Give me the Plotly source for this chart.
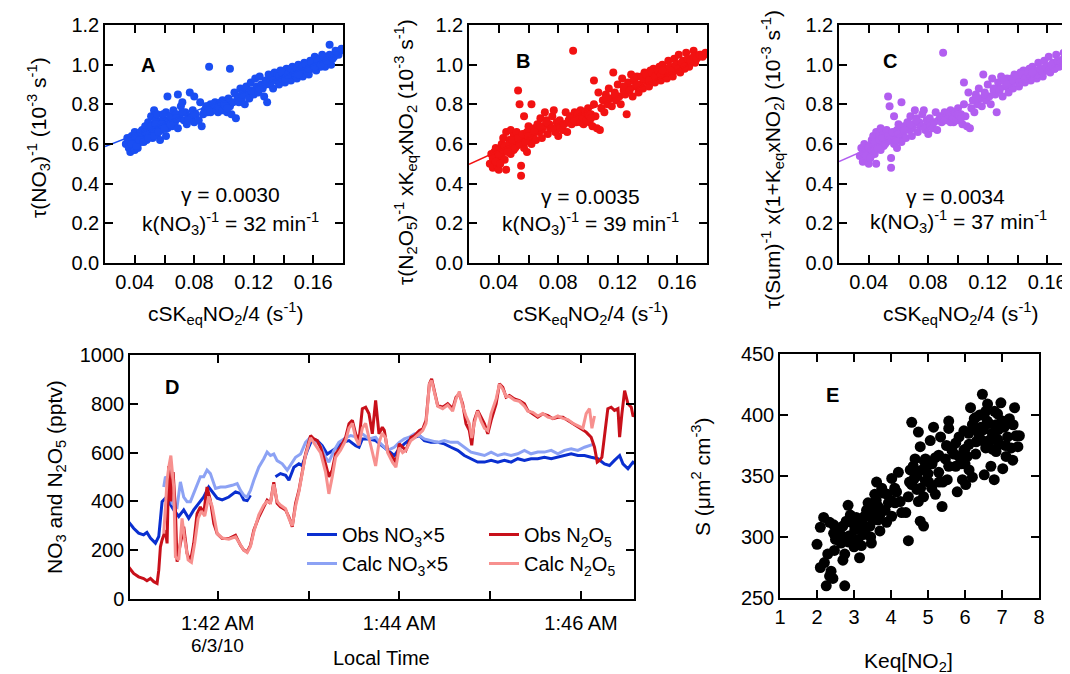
import pandas as pd
import plotly.graph_objects as go

FONT = "Liberation Sans, Arial, Helvetica, sans-serif"
W, H = 1070, 674
OX, OY = 8, 8   # page body margin of the written html

# ---------------- Panels A-C : shared x (cSKeqNO2/4, s^-1) ----------------
csk_x = [0.034,0.035,0.036,0.037,0.037,0.038,0.039,0.039,0.040,0.040,0.041,0.042,0.042,0.043,0.044,0.045,0.045,
         0.046,0.047,0.048,0.048,0.049,0.050,0.050,0.051,0.052,0.052,0.053,0.053,0.054,0.055,0.055,0.056,0.057,0.057,0.058,0.059,0.060,0.061,0.061,0.062,0.062,
         0.063,0.064,0.065,0.066,0.067,0.068,0.069,0.069,0.070,0.071,0.072,0.073,0.074,0.075,0.076,0.077,0.078,0.079,0.080,0.080,0.081,0.083,0.084,0.085,0.086,
         0.087,0.088,0.089,0.090,0.090,0.091,0.092,0.093,0.094,0.095,0.096,0.097,0.098,0.099,0.100,0.101,0.102,0.103,0.104,0.104,0.105,0.106,0.107,0.108,
         0.109,0.110,0.111,0.112,0.113,0.114,0.115,0.116,0.117,0.118,0.119,0.120,0.121,0.122,0.123,0.124,0.125,0.126,0.127,0.128,0.129,0.130,0.131,0.132,0.133,0.134,
         0.135,0.136,0.137,0.138,0.139,0.140,0.141,0.142,0.143,0.144,0.145,0.146,0.147,0.148,0.149,0.150,0.151,0.152,0.153,0.154,0.155,0.156,0.157,0.158,0.159,0.160,
         0.161,0.162,0.163,0.164,0.165,0.166,0.167,0.168,0.170,0.171,0.172,0.174,0.176,0.178,
         0.036,0.038,0.040,0.041,0.043,0.044,0.046,0.047,0.049,0.051,
         0.053,0.054,0.056,0.058,0.059,0.060,0.064,0.068,0.072,0.076,
         0.089,0.091,0.093,0.095,0.096,0.097,0.098,0.099,0.100,0.101,
         0.102,0.112,0.118,0.124,0.128,0.131,0.133,0.137,0.139,0.141,
         0.143,0.145,0.147,0.149,0.151,0.153,0.155,0.157,0.159,0.161,
         0.163,0.165,0.167,0.169,0.171,0.173,0.175,0.177,0.179,0.150]

tau_no3 = [0.60,0.63,0.58,0.61,0.56,0.64,0.59,0.62,0.57,0.66,0.60,0.63,0.58,0.65,0.61,0.67,0.63,
           0.64,0.69,0.62,0.66,0.71,0.65,0.68,0.74,0.63,0.70,0.77,0.67,0.72,0.65,0.75,0.69,0.62,0.71,0.67,0.73,0.70,0.64,0.76,0.84,0.68,
           0.72,0.74,0.69,0.77,0.71,0.75,0.85,0.68,0.73,0.79,0.81,0.72,0.76,0.70,0.74,0.86,0.73,0.77,0.84,0.71,0.75,0.72,0.81,0.69,0.75,
           0.77,0.79,0.76,0.99,0.78,0.80,0.77,0.79,0.81,0.78,0.76,0.80,0.79,0.82,0.78,0.80,0.76,0.83,0.98,0.79,0.75,0.81,0.86,0.73,
           0.84,0.81,0.88,0.83,0.86,0.80,0.89,0.85,0.83,0.91,0.87,0.85,0.93,0.89,0.86,0.94,0.90,0.88,0.84,0.92,0.81,0.95,0.90,0.93,0.88,0.96,
           0.92,0.95,0.90,0.97,0.93,0.96,0.91,0.98,0.94,0.97,0.92,0.99,0.95,0.97,0.93,1.00,0.96,0.98,0.94,1.01,0.97,0.99,0.95,1.02,0.98,1.00,
           1.04,0.97,1.01,1.03,0.99,1.05,1.01,0.99,1.03,1.10,1.00,1.04,1.06,1.07,
           0.62,0.60,0.64,0.59,0.62,0.66,0.61,0.66,0.63,0.69,
           0.64,0.70,0.66,0.70,0.75,0.68,0.70,0.73,0.76,0.72,
           0.79,0.76,0.80,0.77,0.79,0.78,0.81,0.77,0.80,0.79,
           0.78,0.85,0.87,0.88,0.90,0.91,0.92,0.94,0.96,0.93,
           0.95,0.98,0.96,0.98,0.97,0.99,1.00,0.98,1.01,0.99,
           1.02,1.00,1.04,1.02,1.05,1.03,1.07,1.05,1.08,0.95]

tau_n2o5 = [0.50,0.55,0.48,0.52,0.56,0.58,0.49,0.53,0.47,0.57,0.51,0.60,0.54,0.63,0.52,0.66,0.47,
            0.58,0.62,0.55,0.67,0.60,0.64,0.57,0.62,0.59,0.66,0.87,0.61,0.80,0.44,0.49,0.63,0.58,0.74,0.65,0.56,0.69,0.62,0.67,0.80,0.60,
            0.64,0.68,0.62,0.70,0.66,0.73,0.67,0.63,0.69,0.76,0.72,0.65,0.70,0.68,0.74,0.77,0.66,0.71,0.69,0.64,0.72,0.67,0.70,0.76,0.66,
            0.72,0.74,0.70,1.07,0.73,0.76,0.71,0.75,0.72,0.77,0.74,0.70,0.76,0.73,0.78,0.71,0.75,0.69,0.80,0.92,0.74,0.68,0.86,0.67,
            0.78,0.82,0.76,0.85,0.80,0.88,0.83,0.79,0.96,0.86,0.82,0.90,0.84,0.80,0.93,0.87,0.85,0.75,0.91,0.88,0.95,0.84,0.92,0.89,0.94,0.86,
            0.90,0.94,0.88,0.96,0.92,0.95,0.89,0.97,0.93,0.98,0.91,0.96,0.94,0.99,0.92,1.00,0.95,0.97,0.93,1.02,0.96,0.98,0.94,1.03,0.97,1.00,
            1.05,0.96,1.01,1.02,0.98,1.06,1.00,0.99,1.03,1.07,1.01,1.04,1.05,1.05,
            0.53,0.51,0.55,0.50,0.57,0.59,0.56,0.60,0.62,0.58,
            0.63,0.60,0.65,0.61,0.66,0.64,0.66,0.69,0.71,0.68,
            0.73,0.72,0.75,0.71,0.74,0.73,0.76,0.72,0.75,0.74,
            0.73,0.83,0.85,0.89,0.87,0.93,0.90,0.93,0.95,0.92,
            0.96,0.94,0.97,0.95,0.98,0.96,0.99,0.97,1.00,0.98,
            1.01,0.99,1.03,1.02,1.04,1.03,1.05,1.04,1.06,0.97]

tau_sum = [0.54,0.58,0.51,0.55,0.60,0.57,0.52,0.56,0.50,0.59,0.53,0.62,0.57,0.64,0.55,0.66,0.50,
           0.60,0.64,0.57,0.68,0.62,0.65,0.59,0.63,0.61,0.67,0.84,0.62,0.79,0.48,0.53,0.64,0.60,0.74,0.66,0.58,0.70,0.63,0.68,0.81,0.61,
           0.65,0.69,0.63,0.71,0.67,0.74,0.68,0.64,0.70,0.77,0.73,0.66,0.71,0.69,0.75,0.77,0.67,0.72,0.70,0.65,0.73,0.68,0.71,0.76,0.67,
           0.72,0.74,0.71,1.06,0.73,0.76,0.72,0.75,0.73,0.77,0.74,0.71,0.76,0.73,0.78,0.72,0.75,0.70,0.80,0.91,0.74,0.69,0.86,0.68,
           0.78,0.82,0.76,0.85,0.80,0.88,0.83,0.79,0.95,0.86,0.82,0.90,0.84,0.80,0.93,0.87,0.85,0.76,0.91,0.88,0.94,0.84,0.92,0.89,0.93,0.86,
           0.90,0.93,0.88,0.95,0.92,0.94,0.89,0.96,0.93,0.97,0.91,0.95,0.93,0.98,0.92,0.99,0.95,0.96,0.93,1.01,0.96,0.97,0.94,1.02,0.97,0.99,
           1.04,0.96,1.00,1.01,0.98,1.05,1.00,0.99,1.02,1.06,1.01,1.03,1.04,1.04,
           0.56,0.54,0.58,0.53,0.59,0.61,0.58,0.62,0.63,0.60,
           0.64,0.62,0.66,0.62,0.67,0.65,0.67,0.70,0.72,0.69,
           0.73,0.72,0.75,0.71,0.74,0.73,0.76,0.72,0.75,0.74,
           0.73,0.83,0.85,0.88,0.87,0.92,0.90,0.92,0.94,0.91,
           0.95,0.93,0.96,0.94,0.97,0.95,0.98,0.96,0.99,0.97,
           1.00,0.98,1.02,1.01,1.03,1.02,1.04,1.03,1.05,0.96]

# linear fits (intercept, slope)
fit_A = (0.528, 2.95)
fit_B = (0.430, 3.40)
fit_C = (0.445, 3.30)
fit_x = [0.02, 0.18]

# ---------------- Panel D : time series (seconds after 01:41:00) ----------------
t0 = pd.Timestamp("2010-06-03 01:41:00")

obs_no3_t = [1,4.4,7.7,11,13.2,15.5,18.8,21,23.2,25.4,27.6,30.9,34.2,37.5,40.8,44.1,47.4,50.7,54,56.3,59.6,62.9,67.3,71.7,75,77.2,79.4,81.6,
             90,98.1,101.4,104.8,107,110.3,113.6,115.8,119.1,122.4,125.7,129,132.3,135.6,138.9,142.2,146.7,151.1,153.3,155.5,159.9,164.3,
             168,172.2,176.6,179.9,183.2,187.6,191,193.2,196.5,200.9,205.3,209.7,214.1,218.5,222.9,227.3,231.7,236.2,240.6,245,249.4,253.8,
             258.2,262.6,267,271.4,275.8,280.3,284.7,289.1,293.5,297.9,302.3,306.7,311.1,315.5,318.8,322.1,325.5,327.7,331,334.3,336]
obs_no3_v = [317,290,270,263,273,250,229,256,399,413,399,365,338,365,331,365,392,418,459,439,413,406,418,439,432,406,403,425,
             None,501,514,507,487,540,554,547,608,656,649,628,594,608,622,642,649,628,622,656,656,649,
             630,609,588,616,636,657,663,670,649,642,642,636,622,609,588,575,561,561,568,561,568,561,
             575,568,575,575,581,575,581,588,595,588,588,581,575,554,547,568,588,554,534,561,555]

calc_no3_t = [24.3,25.4,27.6,29.8,33.1,35.3,37.5,39.7,41.9,44.1,46.3,48.5,50.7,52.9,55.1,58.5,61.8,65.1,69.5,72.8,75,77.2,79.4,81.6,83.8,
              87.1,90.4,92.6,94.8,97,99.2,102.6,105.9,109.2,111.4,114.7,118,121.3,124.6,127.9,131.2,133.4,136.7,140,143.3,147.8,152.2,
              155.5,159.9,164.3,167.8,172.2,176.6,179.9,183.2,186.5,189.9,193.2,196.5,200.9,205.3,209.7,214.1,218.5,222.9,227.3,231.7,
              236.2,240.6,245,249.4,253.8,258.2,262.6,267,271.4,275.8,280.3,284.7,289.1,293.5,297.9,302.3,305.6,308.9]
calc_no3_v = [459,501,487,392,377,480,418,399,399,432,473,501,501,528,514,453,459,459,466,473,445,425,418,445,487,
              540,575,602,588,594,567,554,528,561,581,594,642,663,649,628,581,561,608,642,656,670,663,
              677,656,663,636,609,622,642,656,663,677,670,656,649,642,649,642,642,622,602,595,
              588,602,588,595,588,595,609,595,602,602,609,595,609,616,609,622,628,636]

obs_n2o5_t = [1,4.4,7.7,11,13.2,15.5,17.7,19.9,21,22.1,23.2,25.4,26.5,27.6,29,30.5,32,33.1,35.3,37.5,39.7,41.9,44.1,46.3,48.5,
              50.7,52.9,55.1,57.4,59.6,62.9,67.3,71.7,75,77.2,79.4,81.6,83.8,87.1,90.4,92.6,94.8,97,99.2,101.4,104.8,107,109.2,111.4,
              113.6,115.8,118,121.3,123.5,125.7,127.9,131.2,133.4,135.6,137.8,141.1,144.5,146.7,148.9,151.1,153.3,155.5,157.7,159.9,
              162.1,164.3,166.5,168.7,170,172.2,175.5,177.7,179.9,182.1,184.3,187.6,189.9,193.2,195.4,197.6,199.8,201.3,203.1,205.3,
              208.6,211.9,215.2,217.4,219.6,221.8,224,226.2,227.8,229.5,231.7,233.9,236.2,238.4,240.6,243.9,246.1,248.3,250.5,252.7,
              256,259.3,262.6,264.8,268.1,271.4,274.7,278.1,281.4,284.7,288,291.3,294.6,297.9,301.2,303.4,306.7,308.9,310.7,312.2,
              313.8,315.5,317.7,319.9,322.1,324.4,325.5,327,328.8,331,333.2,334.3,336]
obs_n2o5_v = [132,105,91,84,75,84,71,64,118,214,242,282,228,545,400,520,365,153,228,296,187,153,228,350,377,
              350,459,405,309,268,248,248,261,220,200,193,220,282,336,378,405,392,479,392,378,365,336,296,392,
              445,528,595,670,656,649,622,554,501,528,595,622,663,718,732,677,649,780,786,759,
              677,814,677,704,691,609,581,561,636,622,609,663,670,691,697,732,882,902,854,793,
              786,800,780,827,841,800,718,691,630,732,773,745,718,677,732,800,882,868,827,834,
              820,813,800,773,759,745,759,752,739,745,745,732,718,704,691,684,663,622,561,568,
              581,663,780,786,773,780,663,759,854,800,786,752,750]

calc_n2o5_t = [24.3,26.5,27.6,29,30.9,32,34.2,36.4,38,40.4,42.6,44.8,47,49.2,51.4,54,56.3,59.6,62.9,67.3,71.7,75,77.2,79.4,81.6,
               83.8,87.1,90.4,92.6,94.8,97,99.2,101.4,104.8,107,109.2,111.4,113.6,115.8,118,121.3,123.5,125.7,127.9,131.2,133.4,
               135.6,137.8,141.1,144.5,146.7,148.9,151.1,153.3,155.5,157.7,159.9,162.1,164.3,166.5,168.7,170.9,172.2,175.5,177.7,
               179.9,182.1,184.3,187.6,189.9,193.2,195.4,197.6,199.8,201.3,203.1,205.3,208.6,211.9,215.2,217.4,219.6,221.8,224,
               226.2,227.8,229.5,231.7,233.9,236.2,238.4,240.6,243.9,246.1,248.3,250.5,252.7,256,259.3,262.6,264.8,268.1,271.4,
               274.7,278.1,281.4,284.7,288,291.3,294.6,297.9,301.2,303.4,305.6,307.2,308.9]
calc_n2o5_v = [268,486,540,588,459,173,160,330,250,160,150,230,330,360,340,420,380,268,250,245,255,225,200,190,215,
               275,345,385,400,395,470,400,385,370,330,300,380,440,520,590,660,640,620,600,520,431,
               500,580,610,650,700,720,660,630,700,720,660,600,545,640,680,660,600,560,540,
               620,600,610,650,660,680,690,720,880,895,850,790,780,795,770,820,850,790,750,
               720,660,720,770,730,700,690,760,820,880,860,830,830,815,810,790,770,765,750,
               760,745,740,750,740,735,720,710,700,760,780,700,750]

# ---------------- Panel E : Keq[NO2] vs S ----------------
keq_no2 = [2.0,2.09,2.18,2.34,2.45,2.45,2.09,2.2,2.29,2.47,2.38,2.34,2.25,2.43,2.75,2.7,2.75,2.65,2.61,2.7,2.79,2.84,2.88,2.97,
           3.02,3.06,3.11,3.15,3.2,3.25,3.29,3.34,3.38,3.43,3.47,3.52,3.56,3.61,3.65,3.7,3.75,3.79,3.84,3.88,3.93,4.02,4.02,4.15,
           4.25,4.2,4.29,4.47,4.52,4.56,4.61,4.65,4.7,4.74,4.74,4.79,4.79,4.88,4.84,4.93,5.02,5.06,5.11,5.15,5.2,5.29,5.34,5.38,
           5.47,5.52,5.56,5.56,5.65,5.75,5.79,5.84,5.93,5.97,6.02,6.06,6.11,6.15,6.2,6.25,6.29,6.38,6.43,6.47,6.52,6.56,6.61,6.65,
           6.7,6.74,6.79,6.84,6.88,6.93,6.97,7.02,7.06,7.11,7.2,7.25,7.29,7.34,7.38,7.43,7.47,
           5.02,4.93,5.29,5.56,6.34,6.47,6.65,6.11,5.75,4.65,4.56,4.47,4.88,3.29,2.93,2.84,3.65,4.11,6.56,6.84,7.15,6.88,6.74,
           6.29,5.97,5.84,3.0,3.45,2.55,4.4,5.4,6.0,7.0,
           2.5,2.6,2.8,2.9,3.0,3.1,3.2,3.3,3.4,3.5,3.6,3.7,3.9,4.0,4.1,4.5,4.6,4.7,4.8,4.9,
           5.0,5.1,5.2,5.3,5.5,5.7,5.9,6.0,6.1,6.2,6.3,6.4,6.5,6.6,6.7,6.8,6.9,7.0,7.1,7.3]
s_area = [294,308,316,312,310,303,275,279,286,289,272,268,260,266,260,281,286,295,303,309,313,326,301,296,
          306,316,309,283,293,302,317,322,328,309,295,314,335,345,325,305,340,336,322,312,328,317,348,337,
          329,353,320,297,355,394,347,364,339,329,386,374,313,309,355,364,345,379,360,390,335,353,382,325,
          364,347,395,389,371,358,337,382,347,387,343,366,376,406,349,397,368,382,390,417,351,373,409,393,
          358,385,347,370,401,376,410,356,390,366,397,373,363,406,383,374,383,
          360,346,367,358,387,379,379,355,377,351,343,333,333,309,312,296,314,328,403,392,382,380,372,
          398,371,366,292,300,299,320,345,360,395,
          298,305,300,318,312,298,315,305,318,322,330,318,335,330,340,345,358,350,340,362,
          352,340,365,345,375,368,360,372,385,392,378,400,388,395,380,403,388,395,375,392]

# ---------------- figure ----------------
def px(x):
    return (x - OX) / W

def py(y):
    return 1 - (y - OY) / H

def axis(**kw):
    d = dict(showline=True, linecolor="black", linewidth=1.5, mirror="ticks", ticks="inside",
             ticklen=8, tickwidth=1.5, tickcolor="black", showgrid=False, zeroline=False, automargin=False,
             tickfont=dict(size=20, family=FONT, color="black"))
    d.update(kw)
    return d

fig = go.Figure()

top_panels = [
    ("x", "y", tau_no3, fit_A, "#1a4ef2"),
    ("x2", "y2", tau_n2o5, fit_B, "#f21212"),
    ("x3", "y3", tau_sum, fit_C, "#b25ef0"),
]
for xa, ya, yv, (b0, b1), col in top_panels:
    fig.add_trace(go.Scatter(x=csk_x, y=yv, mode="markers", xaxis=xa, yaxis=ya,
                             marker=dict(size=8, color=col), showlegend=False))
    fig.add_trace(go.Scatter(x=fit_x, y=[b0 + b1 * v for v in fit_x], mode="lines", xaxis=xa, yaxis=ya,
                             line=dict(color=col, width=1.5), showlegend=False))

def tt(ts):
    return [t0 + pd.Timedelta(seconds=s) for s in ts]

fig.add_trace(go.Scatter(x=tt(obs_no3_t), y=obs_no3_v, mode="lines", xaxis="x4", yaxis="y4",
                         line=dict(color="#0a2fd0", width=3), name="Obs NO<sub>3</sub>×5", legend="legend",
                         connectgaps=False))
fig.add_trace(go.Scatter(x=tt(calc_no3_t), y=calc_no3_v, mode="lines", xaxis="x4", yaxis="y4",
                         line=dict(color="#8ca2f4", width=3), name="Calc NO<sub>3</sub>×5", legend="legend"))
fig.add_trace(go.Scatter(x=tt(obs_n2o5_t), y=obs_n2o5_v, mode="lines", xaxis="x4", yaxis="y4",
                         line=dict(color="#c8101a", width=3), name="Obs N<sub>2</sub>O<sub>5</sub>", legend="legend2"))
fig.add_trace(go.Scatter(x=tt(calc_n2o5_t), y=calc_n2o5_v, mode="lines", xaxis="x4", yaxis="y4",
                         line=dict(color="#f7908e", width=3), name="Calc N<sub>2</sub>O<sub>5</sub>", legend="legend2"))

fig.add_trace(go.Scatter(x=keq_no2, y=s_area, mode="markers", xaxis="x5", yaxis="y5",
                         marker=dict(size=11, color="black"), showlegend=False))

minor_top = dict(tickvals=[0.06, 0.10, 0.14], ticks="inside", ticklen=8, tickwidth=1.5, tickcolor="black")
xt_top = dict(range=[0.02, 0.18], tickvals=[0.04, 0.08, 0.12, 0.16], tickformat=".2f", minor=minor_top)
yt_top = dict(range=[0, 1.2], dtick=0.2, tickformat=".1f")

dom_y_top = [py(263), py(25)]
fig.update_layout(
    xaxis=axis(domain=[px(105), px(343)], anchor="y", **xt_top),
    yaxis=axis(domain=dom_y_top, anchor="x", **yt_top),
    xaxis2=axis(domain=[px(469), px(707)], anchor="y2", **xt_top),
    yaxis2=axis(domain=dom_y_top, anchor="x2", **yt_top),
    xaxis3=axis(domain=[px(839), px(1077)], anchor="y3", **xt_top),
    yaxis3=axis(domain=dom_y_top, anchor="x3", **yt_top),
    xaxis4=axis(domain=[px(130), px(634)], anchor="y4", type="date", ticklabelstandoff=5,
                range=[t0 + pd.Timedelta(seconds=2), t0 + pd.Timedelta(seconds=335)],
                tickvals=[t0 + pd.Timedelta(minutes=m) for m in (1, 3, 5)],
                ticktext=["1:42 AM", "1:44 AM", "1:46 AM"],
                minor=dict(tickvals=[t0 + pd.Timedelta(minutes=m) for m in (2, 4)], ticks="inside",
                           ticklen=8, tickwidth=1.5, tickcolor="black")),
    yaxis4=axis(domain=[py(599), py(355)], anchor="x4", range=[0, 1000], dtick=200),
    xaxis5=axis(domain=[px(780), px(1039)], anchor="y5", range=[1, 8], dtick=1),
    yaxis5=axis(domain=[py(598), py(354)], anchor="x5", range=[250, 450], dtick=50),
    width=W, height=H, margin=dict(l=0, r=0, t=0, b=0, autoexpand=False),
    plot_bgcolor="white", paper_bgcolor="white",
    font=dict(family=FONT, size=20, color="black"),
    legend=dict(x=px(302), y=py(515), xanchor="left", yanchor="top", bgcolor="rgba(0,0,0,0)",
                font=dict(size=20, family=FONT, color="black"), itemwidth=30, tracegroupgap=0),
    legend2=dict(x=px(484), y=py(515), xanchor="left", yanchor="top", bgcolor="rgba(0,0,0,0)",
                 font=dict(size=20, family=FONT, color="black"), itemwidth=30, tracegroupgap=0),
)

ann = []
def add(text, x, y, size=21, bold=False, angle=0):
    ann.append(dict(text=f"<b>{text}</b>" if bold else text, x=px(x), y=py(y), xref="paper", yref="paper",
                    showarrow=False, xanchor="center", yanchor="middle", textangle=angle,
                    font=dict(size=size, family=FONT, color="black")))

for lab, x, y in [("A", 148, 65), ("B", 523, 61), ("C", 890, 61), ("D", 172, 387), ("E", 832, 395)]:
    add(lab, x, y, size=20, bold=True)

add("γ = 0.0030", 230, 195)
add("k(NO<sub>3</sub>)<sup>-1</sup> = 32 min<sup>-1</sup>", 230, 224)
add("γ = 0.0035", 590, 197)
add("k(NO<sub>3</sub>)<sup>-1</sup> = 39 min<sup>-1</sup>", 590, 223)
add("γ = 0.0034", 955, 197)
add("k(NO<sub>3</sub>)<sup>-1</sup> = 37 min<sup>-1</sup>", 958, 222)

xt = "cSK<sub>eq</sub>NO<sub>2</sub>/4 (s<sup>-1</sup>)"
add(xt, 225, 313)
add(xt, 590, 313)
add(xt, 960, 313)
add("τ(NO<sub>3</sub>)<sup>-1</sup> (10<sup>-3</sup> s<sup>-1</sup>)", 38, 138, angle=-90)
add("τ(N<sub>2</sub>O<sub>5</sub>)<sup>-1</sup> xK<sub>eq</sub>xNO<sub>2</sub> (10<sup>-3</sup> s<sup>-1</sup>)", 405, 152, angle=-90)
add("τ(Sum)<sup>-1</sup> x(1+K<sub>eq</sub>xNO<sub>2</sub>) (10<sup>-3</sup> s<sup>-1</sup>)", 772, 160, angle=-90)
add("NO<sub>3</sub> and N<sub>2</sub>O<sub>5</sub> (pptv)", 56, 477, angle=-90)
add("6/3/10", 217, 645, size=19)
add("Local Time", 381, 658, size=20)
add("S (μm<sup>2</sup> cm<sup>-3</sup>)", 701, 477, angle=-90)
add("Keq[NO<sub>2</sub>]", 908, 662)

fig.update_layout(annotations=ann)
fig.write_html("out.html")
